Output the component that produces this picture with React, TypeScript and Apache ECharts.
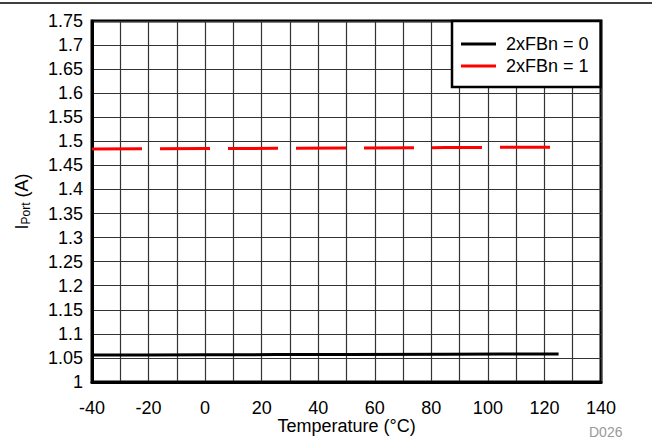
import React, { useEffect, useRef } from "react";
import * as echarts from "echarts";

const temps0 = [-40, -20, 0, 25, 50, 85, 105, 125];
const iport0 = [1.056, 1.056, 1.0565, 1.057, 1.057, 1.0575, 1.058, 1.058];
const temps1 = [-40, -20, 0, 25, 50, 85, 105, 125];
const iport1 = [1.484, 1.4845, 1.485, 1.4855, 1.486, 1.487, 1.4875, 1.488];
const seriesNames = ["2xFBn = 0", "2xFBn = 1"];

const FONT = "Liberation Sans, Arial, Helvetica, sans-serif";

export default function App() {
  const ref = useRef<HTMLDivElement>(null);
  useEffect(() => {
    if (!ref.current) return;
    const chart = echarts.init(ref.current, null, { renderer: "svg" });
    chart.setOption({
      animation: false,
      backgroundColor: "#fff",
      textStyle: { fontFamily: FONT },
      grid: {
        left: 92,
        right: 51,
        top: 21,
        bottom: 57,
        outerBoundsMode: "none",
        containLabel: false,
        show: true,
        borderColor: "#000",
        borderWidth: 3,
      },
      legend: {
        left: 452,
        top: 21,
        orient: "vertical",
        backgroundColor: "#fff",
        borderColor: "#000",
        borderWidth: 2.5,
        padding: [14, 12, 12, 9],
        icon: "rect",
        itemWidth: 35,
        itemHeight: 3,
        itemGap: 4,
        textStyle: { fontSize: 18, color: "#000", fontFamily: FONT, padding: [0, 0, 0, 5] },
        data: seriesNames,
      },
      xAxis: {
        type: "value",
        min: -40,
        max: 140,
        interval: 10,
        name: "Temperature (°C)",
        nameLocation: "middle",
        nameGap: 35,
        nameMoveOverlap: false,
        nameTextStyle: { fontSize: 18, lineHeight: 18, color: "#000", fontFamily: FONT },
        axisLine: { show: true, onZero: false, lineStyle: { color: "#000", width: 3 } },
        axisTick: { show: false },
        axisLabel: {
          fontSize: 18,
          lineHeight: 17,
          color: "#000",
          margin: 17,
          fontFamily: FONT,
          formatter: (v: number) => (Math.round(v) % 20 === 0 ? String(v) : ""),
        },
        splitLine: { show: true, lineStyle: { color: "#333", width: 1.2 } },
      },
      yAxis: {
        type: "value",
        min: 1,
        max: 1.75,
        interval: 0.05,
        name: "{a|I}{b|Port}{a| (A)}",
        nameLocation: "middle",
        nameGap: 60,
        nameMoveOverlap: false,
        nameTextStyle: {
          fontFamily: FONT,
          color: "#000",
          rich: {
            a: { fontSize: 18, color: "#000", fontFamily: FONT },
            b: { fontSize: 12, color: "#000", fontFamily: FONT, padding: [8, 0, 0, 0] },
          },
        },
        axisLine: { show: true, onZero: false, lineStyle: { color: "#000", width: 3 } },
        axisTick: { show: false },
        axisLabel: {
          fontSize: 18,
          color: "#000",
          margin: 9,
          fontFamily: FONT,
          formatter: (v: number) => String(parseFloat(v.toFixed(2))),
        },
        splitLine: { show: true, lineStyle: { color: "#333", width: 1.2 } },
      },
      series: [
        {
          name: seriesNames[0],
          type: "line",
          data: temps0.map((t, i) => [t, iport0[i]]),
          showSymbol: false,
          symbol: "none",
          color: "#000",
          lineStyle: { color: "#000", width: 3 },
        },
        {
          name: seriesNames[1],
          type: "line",
          data: temps1.map((t, i) => [t, iport1[i]]),
          showSymbol: false,
          symbol: "none",
          color: "#ff0000",
          lineStyle: { color: "#ff0000", width: 3, type: [50, 18] },
        },
      ],
      graphic: [
        {
          type: "line",
          shape: { x1: 0, y1: 3, x2: 652, y2: 3 },
          style: { stroke: "#000", lineWidth: 1.5 },
        },
        {
          type: "text",
          left: 589,
          top: 425,
          style: { text: "D026", fill: "#999", fontSize: 14, fontFamily: FONT },
        },
      ],
    });
    return () => chart.dispose();
  }, []);
  return (
    <div
      ref={ref}
      style={{ position: "fixed", left: 0, top: 0, width: 652, height: 439 }}
    />
  );
}
